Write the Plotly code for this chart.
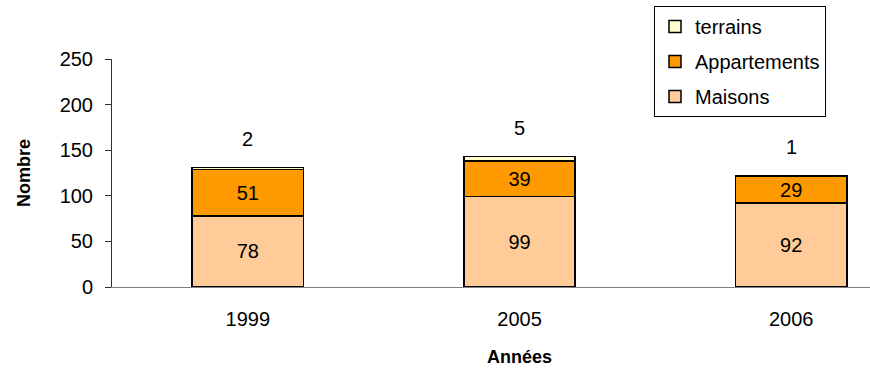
import plotly.graph_objects as go

# Data
years = ["1999", "2005", "2006"]
maisons = [78, 99, 92]
appartements = [51, 39, 29]
terrains = [2, 5, 1]

FONT = "Liberation Sans, Arial, sans-serif"

fig = go.Figure()

fig.add_trace(go.Bar(
    x=years, y=maisons, name="Maisons", legendgroup="m", legendrank=3,
    marker=dict(color="#FFCC99", line=dict(color="#000000", width=1.5)),
    text=[str(v) for v in maisons], textposition="inside",
    insidetextanchor="middle", textangle=0, constraintext="none",
    textfont=dict(size=20, color="#000000", family=FONT),
))
fig.add_trace(go.Bar(
    x=years, y=appartements, name="Appartements", legendgroup="a", legendrank=2,
    marker=dict(color="#FF9900", line=dict(color="#000000", width=1.5)),
    text=[str(v) for v in appartements], textposition="inside",
    insidetextanchor="middle", textangle=0, constraintext="none",
    textfont=dict(size=20, color="#000000", family=FONT),
))
fig.add_trace(go.Bar(
    x=years, y=terrains, name="terrains", legendgroup="t", legendrank=1,
    marker=dict(color="#FFFFCC", line=dict(color="#000000", width=1.5)),
))

# terrains values shown above each stack
for i, (m, a, t) in enumerate(zip(maisons, appartements, terrains)):
    fig.add_annotation(
        x=i, y=m + a + t, text=str(t), showarrow=False,
        yshift=29, font=dict(size=20, color="#000000", family=FONT),
    )

# axis titles
fig.add_annotation(
    xref="paper", yref="paper", x=0.537, y=0, yshift=-82,
    text="<b>Années</b>", showarrow=False,
    font=dict(size=18, color="#000000", family=FONT),
)
fig.add_annotation(
    xref="paper", yref="paper", x=0, y=0.5, xshift=-100,
    text="<b>Nombre</b>", textangle=-90, showarrow=False,
    font=dict(size=18, color="#000000", family=FONT),
)

fig.update_layout(
    width=870, height=368,
    margin=dict(l=112, r=0, t=59, b=81),
    barmode="stack", bargap=0.59,
    plot_bgcolor="#FFFFFF", paper_bgcolor="#FFFFFF",
    font=dict(family=FONT, color="#000000", size=19),
    showlegend=True,
    legend=dict(
        x=(654 - 112) / 758, y=1 + (59 - 6) / 228,
        xanchor="left", yanchor="top",
        traceorder="grouped", tracegroupgap=6,
        bordercolor="#000000", borderwidth=1, bgcolor="#FFFFFF",
        font=dict(size=20, family=FONT, color="#000000"),
    ),
    xaxis=dict(
        type="category", range=[-0.5, 2.29],
        showline=True, linecolor="#808080", linewidth=1,
        ticks="", showgrid=False, zeroline=False,
        tickfont=dict(size=20, family=FONT, color="#000000"),
        ticklabelstandoff=14,
    ),
    yaxis=dict(
        range=[0, 250], tickvals=[0, 50, 100, 150, 200, 250],
        showline=True, linecolor="#303030", linewidth=1,
        ticks="outside", ticklen=6, tickcolor="#303030",
        showgrid=False, zeroline=False,
        tickfont=dict(size=20, family=FONT, color="#000000"),
        ticklabelstandoff=8,
    ),
)

fig.write_html("out.html")
